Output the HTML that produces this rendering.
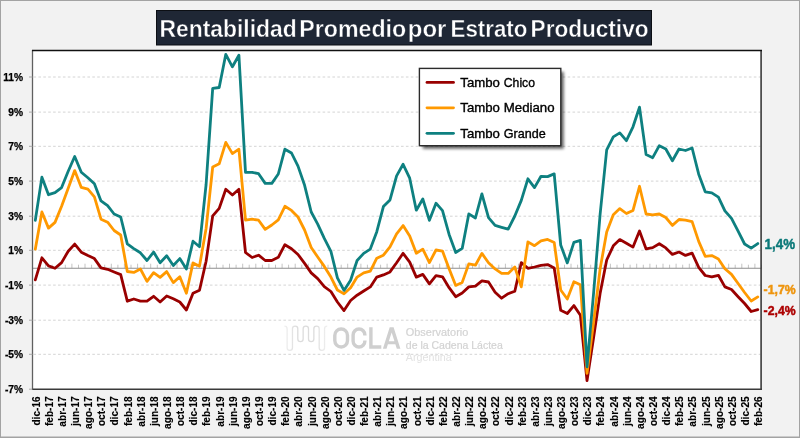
<!DOCTYPE html>
<html><head><meta charset="utf-8"><title>Rentabilidad Promedio por Estrato Productivo</title>
<style>html,body{margin:0;padding:0;background:#f2f2f2;}svg{display:block;will-change:transform;}text{font-family:"Liberation Sans",sans-serif;}</style>
</head><body>
<svg width="800" height="438" viewBox="0 0 800 438">
<defs><filter id="sh" x="-10%" y="-10%" width="130%" height="130%"><feGaussianBlur stdDeviation="1.7"/></filter></defs>
<rect x="0" y="0" width="800" height="438" fill="#f2f2f2"/>
<rect x="0.5" y="0.5" width="799" height="437" fill="none" stroke="#a3a3a3" stroke-width="1"/>
<rect x="0" y="436.5" width="800" height="1.5" fill="#a3a3a3"/>
<rect x="32.5" y="50.5" width="729.0" height="339.0" fill="#ffffff"/>
<line x1="33.5" y1="77.0" x2="760.5" y2="77.0" stroke="#d4d4d4" stroke-width="1" stroke-dasharray="2.6 2.3"/>
<line x1="33.5" y1="112.1" x2="760.5" y2="112.1" stroke="#d4d4d4" stroke-width="1" stroke-dasharray="2.6 2.3"/>
<line x1="33.5" y1="146.3" x2="760.5" y2="146.3" stroke="#d4d4d4" stroke-width="1" stroke-dasharray="2.6 2.3"/>
<line x1="33.5" y1="181.1" x2="760.5" y2="181.1" stroke="#d4d4d4" stroke-width="1" stroke-dasharray="2.6 2.3"/>
<line x1="33.5" y1="216.2" x2="760.5" y2="216.2" stroke="#d4d4d4" stroke-width="1" stroke-dasharray="2.6 2.3"/>
<line x1="33.5" y1="250.3" x2="760.5" y2="250.3" stroke="#d4d4d4" stroke-width="1" stroke-dasharray="2.6 2.3"/>
<line x1="33.5" y1="285.1" x2="760.5" y2="285.1" stroke="#d4d4d4" stroke-width="1" stroke-dasharray="2.6 2.3"/>
<line x1="33.5" y1="320.2" x2="760.5" y2="320.2" stroke="#d4d4d4" stroke-width="1" stroke-dasharray="2.6 2.3"/>
<line x1="33.5" y1="354.3" x2="760.5" y2="354.3" stroke="#d4d4d4" stroke-width="1" stroke-dasharray="2.6 2.3"/>
<g id="wm">
<defs><linearGradient id="wg" x1="284" y1="0" x2="328" y2="0" gradientUnits="userSpaceOnUse"><stop offset="0" stop-color="#f1f1f1"/><stop offset="0.3" stop-color="#dcdcdc"/><stop offset="0.7" stop-color="#dcdcdc"/><stop offset="1" stop-color="#f1f1f1"/></linearGradient></defs>
<path d="M284.4,326.2 q2.7,0 2.7,2.7 V347.7 a2.675,2.675 0 0 0 5.35,0 V328.7 a2.675,2.675 0 0 1 5.35,0 V338.9 a2.675,2.675 0 0 0 5.35,0 V328.7 a2.675,2.675 0 0 1 5.35,0 V338.9 a2.675,2.675 0 0 0 5.35,0 V328.7 a2.675,2.675 0 0 1 5.35,0 V347.7 a2.675,2.675 0 0 0 5.35,0 V328.9 q0,-2.7 2.7,-2.7" fill="none" stroke="url(#wg)" stroke-width="1.3"/>
<g fill="none" stroke="#cfcfcf" stroke-width="3.4">
<rect x="334.8" y="329" width="12.7" height="18" rx="6.3" ry="6.4"/>
<path d="M364.9,335.6 V335 a5.9,6 0 0 0 -11.8,0 V341 a5.9,6 0 0 0 11.8,0 V340.4"/>
<path d="M370.9,327.3 V347 H381.3"/>
</g>
<path d="M382.9,348.7 L389.7,327.3 H393.6 L400.4,348.7 H396.8 L395.4,344.3 H387.9 L386.5,348.7 Z M388.85,341.3 H394.45 L391.65,332.4 Z" fill="#cfcfcf" fill-rule="evenodd"/>
<text x="405.8" y="335.8" font-size="10.6" fill="#d3d3d3" stroke="#d3d3d3" stroke-width="0.2" textLength="62.5" lengthAdjust="spacingAndGlyphs">Observatorio</text>
<text x="405.8" y="348.5" font-size="10.6" fill="#d3d3d3" stroke="#d3d3d3" stroke-width="0.2" textLength="97" lengthAdjust="spacingAndGlyphs">de la Cadena Láctea</text>
<text x="405.8" y="360.8" font-size="10.6" fill="#e2e2e2" textLength="46" lengthAdjust="spacingAndGlyphs">Argentina</text>
</g>
<path d="M32.5,263.7V268.2M39.1,264.7V268.2M45.6,263.7V268.2M52.2,264.7V268.2M58.8,263.7V268.2M65.3,264.7V268.2M71.9,263.7V268.2M78.5,264.7V268.2M85.0,263.7V268.2M91.6,264.7V268.2M98.2,263.7V268.2M104.7,264.7V268.2M111.3,263.7V268.2M117.9,264.7V268.2M124.4,263.7V268.2M131.0,264.7V268.2M137.6,263.7V268.2M144.1,264.7V268.2M150.7,263.7V268.2M157.3,264.7V268.2M163.9,263.7V268.2M170.4,264.7V268.2M177.0,263.7V268.2M183.6,264.7V268.2M190.1,263.7V268.2M196.7,264.7V268.2M203.3,263.7V268.2M209.8,264.7V268.2M216.4,263.7V268.2M223.0,264.7V268.2M229.5,263.7V268.2M236.1,264.7V268.2M242.7,263.7V268.2M249.2,264.7V268.2M255.8,263.7V268.2M262.4,264.7V268.2M268.9,263.7V268.2M275.5,264.7V268.2M282.1,263.7V268.2M288.6,264.7V268.2M295.2,263.7V268.2M301.8,264.7V268.2M308.3,263.7V268.2M314.9,264.7V268.2M321.5,263.7V268.2M328.0,264.7V268.2M334.6,263.7V268.2M341.2,264.7V268.2M347.7,263.7V268.2M354.3,264.7V268.2M360.9,263.7V268.2M367.4,264.7V268.2M374.0,263.7V268.2M380.6,264.7V268.2M387.1,263.7V268.2M393.7,264.7V268.2M400.3,263.7V268.2M406.9,264.7V268.2M413.4,263.7V268.2M420.0,264.7V268.2M426.6,263.7V268.2M433.1,264.7V268.2M439.7,263.7V268.2M446.3,264.7V268.2M452.8,263.7V268.2M459.4,264.7V268.2M466.0,263.7V268.2M472.5,264.7V268.2M479.1,263.7V268.2M485.7,264.7V268.2M492.2,263.7V268.2M498.8,264.7V268.2M505.4,263.7V268.2M511.9,264.7V268.2M518.5,263.7V268.2M525.1,264.7V268.2M531.6,263.7V268.2M538.2,264.7V268.2M544.8,263.7V268.2M551.3,264.7V268.2M557.9,263.7V268.2M564.5,264.7V268.2M571.0,263.7V268.2M577.6,264.7V268.2M584.2,263.7V268.2M590.7,264.7V268.2M597.3,263.7V268.2M603.9,264.7V268.2M610.4,263.7V268.2M617.0,264.7V268.2M623.6,263.7V268.2M630.1,264.7V268.2M636.7,263.7V268.2M643.3,264.7V268.2M649.9,263.7V268.2M656.4,264.7V268.2M663.0,263.7V268.2M669.6,264.7V268.2M676.1,263.7V268.2M682.7,264.7V268.2M689.3,263.7V268.2M695.8,264.7V268.2M702.4,263.7V268.2M709.0,264.7V268.2M715.5,263.7V268.2M722.1,264.7V268.2M728.7,263.7V268.2M735.2,264.7V268.2M741.8,263.7V268.2M748.4,264.7V268.2M754.9,263.7V268.2M761.5,264.7V268.2" stroke="#c4c4c4" stroke-width="1" fill="none"/>
<line x1="32.5" y1="268.2" x2="761.5" y2="268.2" stroke="#8e8e8e" stroke-width="1.1"/>
<polyline points="35.3,279.9 41.9,257.8 48.5,265.9 55.0,268.3 61.6,262.6 68.2,251.2 74.7,244.1 81.3,252.2 87.9,255.6 94.4,258.6 101.0,267.9 107.6,269.3 114.1,272.0 120.7,274.6 127.3,301.2 133.8,299.0 140.4,301.1 147.0,301.1 153.6,296.3 160.1,302.0 166.7,296.0 173.3,298.8 179.8,302.0 186.4,310.0 193.0,293.3 199.5,290.2 206.1,261.3 212.7,215.9 219.2,208.4 225.8,189.3 232.4,195.0 238.9,189.3 245.5,252.5 252.1,257.5 258.6,255.2 265.2,260.5 271.8,260.5 278.3,257.3 284.9,244.7 291.5,248.7 298.0,254.5 304.6,263.4 311.2,272.9 317.7,278.6 324.3,286.6 330.9,291.5 337.4,302.0 344.0,310.6 350.6,300.5 357.1,295.2 363.7,291.0 370.3,286.9 376.8,277.1 383.4,274.9 390.0,271.9 396.6,262.8 403.1,253.3 409.7,262.1 416.3,277.1 422.8,274.4 429.4,283.9 436.0,275.6 442.5,276.8 449.1,287.7 455.7,296.7 462.2,293.0 468.8,286.9 475.4,286.2 481.9,280.9 488.5,282.0 495.1,292.2 501.6,298.2 508.2,293.7 514.8,291.3 521.3,262.6 527.9,268.3 534.5,267.0 541.0,265.4 547.6,264.6 554.2,268.0 560.7,310.3 567.3,313.5 573.9,305.6 580.4,315.3 587.0,380.7 593.6,337.5 600.1,293.6 606.7,260.0 613.3,245.8 619.8,239.6 626.4,243.2 633.0,247.1 639.5,231.0 646.1,248.9 652.7,247.6 659.3,243.7 665.8,247.9 672.4,254.4 679.0,252.0 685.5,255.4 692.1,253.1 698.7,267.4 705.2,275.5 711.8,276.9 718.4,275.3 724.9,286.9 731.5,289.5 738.1,296.7 744.6,303.5 751.2,311.5 757.8,309.6" fill="none" stroke="#990000" stroke-width="2.8" stroke-linejoin="round" stroke-linecap="round"/>
<polyline points="35.3,249.2 41.9,212.0 48.5,228.1 55.0,222.4 61.6,206.3 68.2,188.2 74.7,170.6 81.3,187.4 87.9,189.2 94.4,196.9 101.0,219.2 107.6,222.2 114.1,230.5 120.7,235.0 127.3,271.5 133.8,272.4 140.4,269.0 147.0,281.4 153.6,272.7 160.1,277.4 166.7,271.6 173.3,282.6 179.8,276.8 186.4,293.2 193.0,262.9 199.5,266.2 206.1,228.5 212.7,167.0 219.2,163.8 225.8,142.4 232.4,153.6 238.9,149.2 245.5,220.2 252.1,219.2 258.6,220.2 265.2,229.4 271.8,225.0 278.3,219.8 284.9,206.3 291.5,210.4 298.0,217.0 304.6,230.0 311.2,247.5 317.7,257.0 324.3,266.4 330.9,277.1 337.4,290.0 344.0,293.7 350.6,287.7 357.1,277.1 363.7,272.9 370.3,271.1 376.8,258.2 383.4,255.2 390.0,246.8 396.6,233.9 403.1,225.6 409.7,236.0 416.3,253.3 422.8,249.1 429.4,262.6 436.0,250.0 442.5,251.1 449.1,268.8 455.7,285.4 462.2,282.4 468.8,263.9 475.4,265.2 481.9,253.4 488.5,262.7 495.1,268.9 501.6,273.4 508.2,273.4 514.8,267.0 521.3,286.9 527.9,241.9 534.5,245.7 541.0,240.9 547.6,239.4 554.2,242.4 560.7,290.0 567.3,299.0 573.9,281.8 580.4,284.8 587.0,373.3 593.6,322.0 600.1,269.0 606.7,232.0 613.3,214.7 619.8,208.6 626.4,213.5 633.0,210.4 639.5,186.3 646.1,214.0 652.7,214.9 659.3,214.0 665.8,217.5 672.4,225.4 679.0,219.5 685.5,220.2 692.1,221.6 698.7,241.4 705.2,256.3 711.8,255.6 718.4,258.9 724.9,268.8 731.5,274.4 738.1,283.5 744.6,292.5 751.2,301.0 757.8,296.9" fill="none" stroke="#ff9900" stroke-width="2.8" stroke-linejoin="round" stroke-linecap="round"/>
<polyline points="35.3,220.4 41.9,177.2 48.5,194.7 55.0,192.7 61.6,187.6 68.2,171.2 74.7,156.5 81.3,172.2 87.9,177.8 94.4,183.8 101.0,200.9 107.6,205.7 114.1,214.0 120.7,217.0 127.3,243.9 133.8,248.6 140.4,252.8 147.0,260.5 153.6,252.1 160.1,262.7 166.7,255.7 173.3,265.5 179.8,258.6 186.4,269.0 193.0,241.2 199.5,246.7 206.1,184.5 212.7,88.4 219.2,87.5 225.8,54.3 232.4,66.8 238.9,55.2 245.5,172.3 252.1,172.3 258.6,173.7 265.2,183.4 271.8,183.4 278.3,174.0 284.9,149.2 291.5,153.0 298.0,166.1 304.6,185.3 311.2,212.0 317.7,224.1 324.3,238.4 330.9,251.3 337.4,277.9 344.0,290.4 350.6,280.2 357.1,260.5 363.7,253.4 370.3,249.1 376.8,231.7 383.4,206.6 390.0,199.9 396.6,175.9 403.1,164.3 409.7,178.2 416.3,210.2 422.8,199.0 429.4,220.3 436.0,203.2 442.5,210.6 449.1,234.4 455.7,252.5 462.2,248.4 468.8,213.9 475.4,218.0 481.9,193.9 488.5,217.7 495.1,225.4 501.6,227.3 508.2,229.1 514.8,216.0 521.3,200.4 527.9,178.8 534.5,187.6 541.0,176.3 547.6,176.6 554.2,173.9 560.7,245.0 567.3,262.9 573.9,242.4 580.4,240.4 587.0,366.8 593.6,293.0 600.1,214.5 606.7,149.8 613.3,136.9 619.8,132.9 626.4,140.7 633.0,126.8 639.5,107.2 646.1,154.6 652.7,157.7 659.3,145.7 665.8,149.0 672.4,160.8 679.0,149.0 685.5,150.5 692.1,148.0 698.7,174.2 705.2,191.8 711.8,192.8 718.4,197.1 724.9,210.8 731.5,218.4 738.1,231.2 744.6,244.0 751.2,248.1 757.8,243.6" fill="none" stroke="#0e8080" stroke-width="2.8" stroke-linejoin="round" stroke-linecap="round"/>
<line x1="32.5" y1="50.0" x2="32.5" y2="390.0" stroke="#606060" stroke-width="1.3"/>
<line x1="761.1" y1="50.0" x2="761.1" y2="390.0" stroke="#3a3a3a" stroke-width="1.6"/>
<line x1="32.0" y1="50.5" x2="762.0" y2="50.5" stroke="#111111" stroke-width="1.3"/>
<line x1="32.0" y1="389.2" x2="761.9" y2="389.2" stroke="#3a3a3a" stroke-width="1.5"/>
<line x1="29.0" y1="77.0" x2="32.5" y2="77.0" stroke="#a8a8a8" stroke-width="1"/>
<text x="23.1" y="80.7" font-size="10.2" font-weight="bold" fill="#000" stroke="#000" stroke-width="0.25" text-anchor="end">11%</text>
<line x1="29.0" y1="112.1" x2="32.5" y2="112.1" stroke="#a8a8a8" stroke-width="1"/>
<text x="23.1" y="115.8" font-size="10.2" font-weight="bold" fill="#000" stroke="#000" stroke-width="0.25" text-anchor="end">9%</text>
<line x1="29.0" y1="146.3" x2="32.5" y2="146.3" stroke="#a8a8a8" stroke-width="1"/>
<text x="23.1" y="150.0" font-size="10.2" font-weight="bold" fill="#000" stroke="#000" stroke-width="0.25" text-anchor="end">7%</text>
<line x1="29.0" y1="181.1" x2="32.5" y2="181.1" stroke="#a8a8a8" stroke-width="1"/>
<text x="23.1" y="184.8" font-size="10.2" font-weight="bold" fill="#000" stroke="#000" stroke-width="0.25" text-anchor="end">5%</text>
<line x1="29.0" y1="216.2" x2="32.5" y2="216.2" stroke="#a8a8a8" stroke-width="1"/>
<text x="23.1" y="219.9" font-size="10.2" font-weight="bold" fill="#000" stroke="#000" stroke-width="0.25" text-anchor="end">3%</text>
<line x1="29.0" y1="250.3" x2="32.5" y2="250.3" stroke="#a8a8a8" stroke-width="1"/>
<text x="23.1" y="254.0" font-size="10.2" font-weight="bold" fill="#000" stroke="#000" stroke-width="0.25" text-anchor="end">1%</text>
<line x1="29.0" y1="285.1" x2="32.5" y2="285.1" stroke="#a8a8a8" stroke-width="1"/>
<text x="23.1" y="288.8" font-size="10.2" font-weight="bold" fill="#000" stroke="#000" stroke-width="0.25" text-anchor="end">-1%</text>
<line x1="29.0" y1="320.2" x2="32.5" y2="320.2" stroke="#a8a8a8" stroke-width="1"/>
<text x="23.1" y="323.9" font-size="10.2" font-weight="bold" fill="#000" stroke="#000" stroke-width="0.25" text-anchor="end">-3%</text>
<line x1="29.0" y1="354.3" x2="32.5" y2="354.3" stroke="#a8a8a8" stroke-width="1"/>
<text x="23.1" y="358.0" font-size="10.2" font-weight="bold" fill="#000" stroke="#000" stroke-width="0.25" text-anchor="end">-5%</text>
<line x1="29.0" y1="389.2" x2="32.5" y2="389.2" stroke="#a8a8a8" stroke-width="1"/>
<text x="23.1" y="392.9" font-size="10.2" font-weight="bold" fill="#000" stroke="#000" stroke-width="0.25" text-anchor="end">-7%</text>
<text transform="translate(39.6,396.3) rotate(-90) scale(0.955,1)" font-size="10.6" font-weight="bold" fill="#000" stroke="#000" stroke-width="0.12" text-anchor="end">dic-16</text>
<text transform="translate(52.8,396.3) rotate(-90) scale(0.955,1)" font-size="10.6" font-weight="bold" fill="#000" stroke="#000" stroke-width="0.12" text-anchor="end">feb-17</text>
<text transform="translate(65.9,396.3) rotate(-90) scale(0.955,1)" font-size="10.6" font-weight="bold" fill="#000" stroke="#000" stroke-width="0.12" text-anchor="end">abr-17</text>
<text transform="translate(79.0,396.3) rotate(-90) scale(0.955,1)" font-size="10.6" font-weight="bold" fill="#000" stroke="#000" stroke-width="0.12" text-anchor="end">jun-17</text>
<text transform="translate(92.2,396.3) rotate(-90) scale(0.955,1)" font-size="10.6" font-weight="bold" fill="#000" stroke="#000" stroke-width="0.12" text-anchor="end">ago-17</text>
<text transform="translate(105.3,396.3) rotate(-90) scale(0.955,1)" font-size="10.6" font-weight="bold" fill="#000" stroke="#000" stroke-width="0.12" text-anchor="end">oct-17</text>
<text transform="translate(118.4,396.3) rotate(-90) scale(0.955,1)" font-size="10.6" font-weight="bold" fill="#000" stroke="#000" stroke-width="0.12" text-anchor="end">dic-17</text>
<text transform="translate(131.6,396.3) rotate(-90) scale(0.955,1)" font-size="10.6" font-weight="bold" fill="#000" stroke="#000" stroke-width="0.12" text-anchor="end">feb-18</text>
<text transform="translate(144.7,396.3) rotate(-90) scale(0.955,1)" font-size="10.6" font-weight="bold" fill="#000" stroke="#000" stroke-width="0.12" text-anchor="end">abr-18</text>
<text transform="translate(157.9,396.3) rotate(-90) scale(0.955,1)" font-size="10.6" font-weight="bold" fill="#000" stroke="#000" stroke-width="0.12" text-anchor="end">jun-18</text>
<text transform="translate(171.0,396.3) rotate(-90) scale(0.955,1)" font-size="10.6" font-weight="bold" fill="#000" stroke="#000" stroke-width="0.12" text-anchor="end">ago-18</text>
<text transform="translate(184.1,396.3) rotate(-90) scale(0.955,1)" font-size="10.6" font-weight="bold" fill="#000" stroke="#000" stroke-width="0.12" text-anchor="end">oct-18</text>
<text transform="translate(197.3,396.3) rotate(-90) scale(0.955,1)" font-size="10.6" font-weight="bold" fill="#000" stroke="#000" stroke-width="0.12" text-anchor="end">dic-18</text>
<text transform="translate(210.4,396.3) rotate(-90) scale(0.955,1)" font-size="10.6" font-weight="bold" fill="#000" stroke="#000" stroke-width="0.12" text-anchor="end">feb-19</text>
<text transform="translate(223.5,396.3) rotate(-90) scale(0.955,1)" font-size="10.6" font-weight="bold" fill="#000" stroke="#000" stroke-width="0.12" text-anchor="end">abr-19</text>
<text transform="translate(236.7,396.3) rotate(-90) scale(0.955,1)" font-size="10.6" font-weight="bold" fill="#000" stroke="#000" stroke-width="0.12" text-anchor="end">jun-19</text>
<text transform="translate(249.8,396.3) rotate(-90) scale(0.955,1)" font-size="10.6" font-weight="bold" fill="#000" stroke="#000" stroke-width="0.12" text-anchor="end">ago-19</text>
<text transform="translate(262.9,396.3) rotate(-90) scale(0.955,1)" font-size="10.6" font-weight="bold" fill="#000" stroke="#000" stroke-width="0.12" text-anchor="end">oct-19</text>
<text transform="translate(276.1,396.3) rotate(-90) scale(0.955,1)" font-size="10.6" font-weight="bold" fill="#000" stroke="#000" stroke-width="0.12" text-anchor="end">dic-19</text>
<text transform="translate(289.2,396.3) rotate(-90) scale(0.955,1)" font-size="10.6" font-weight="bold" fill="#000" stroke="#000" stroke-width="0.12" text-anchor="end">feb-20</text>
<text transform="translate(302.3,396.3) rotate(-90) scale(0.955,1)" font-size="10.6" font-weight="bold" fill="#000" stroke="#000" stroke-width="0.12" text-anchor="end">abr-20</text>
<text transform="translate(315.5,396.3) rotate(-90) scale(0.955,1)" font-size="10.6" font-weight="bold" fill="#000" stroke="#000" stroke-width="0.12" text-anchor="end">jun-20</text>
<text transform="translate(328.6,396.3) rotate(-90) scale(0.955,1)" font-size="10.6" font-weight="bold" fill="#000" stroke="#000" stroke-width="0.12" text-anchor="end">ago-20</text>
<text transform="translate(341.7,396.3) rotate(-90) scale(0.955,1)" font-size="10.6" font-weight="bold" fill="#000" stroke="#000" stroke-width="0.12" text-anchor="end">oct-20</text>
<text transform="translate(354.9,396.3) rotate(-90) scale(0.955,1)" font-size="10.6" font-weight="bold" fill="#000" stroke="#000" stroke-width="0.12" text-anchor="end">dic-20</text>
<text transform="translate(368.0,396.3) rotate(-90) scale(0.955,1)" font-size="10.6" font-weight="bold" fill="#000" stroke="#000" stroke-width="0.12" text-anchor="end">feb-21</text>
<text transform="translate(381.1,396.3) rotate(-90) scale(0.955,1)" font-size="10.6" font-weight="bold" fill="#000" stroke="#000" stroke-width="0.12" text-anchor="end">abr-21</text>
<text transform="translate(394.3,396.3) rotate(-90) scale(0.955,1)" font-size="10.6" font-weight="bold" fill="#000" stroke="#000" stroke-width="0.12" text-anchor="end">jun-21</text>
<text transform="translate(407.4,396.3) rotate(-90) scale(0.955,1)" font-size="10.6" font-weight="bold" fill="#000" stroke="#000" stroke-width="0.12" text-anchor="end">ago-21</text>
<text transform="translate(420.6,396.3) rotate(-90) scale(0.955,1)" font-size="10.6" font-weight="bold" fill="#000" stroke="#000" stroke-width="0.12" text-anchor="end">oct-21</text>
<text transform="translate(433.7,396.3) rotate(-90) scale(0.955,1)" font-size="10.6" font-weight="bold" fill="#000" stroke="#000" stroke-width="0.12" text-anchor="end">dic-21</text>
<text transform="translate(446.8,396.3) rotate(-90) scale(0.955,1)" font-size="10.6" font-weight="bold" fill="#000" stroke="#000" stroke-width="0.12" text-anchor="end">feb-22</text>
<text transform="translate(460.0,396.3) rotate(-90) scale(0.955,1)" font-size="10.6" font-weight="bold" fill="#000" stroke="#000" stroke-width="0.12" text-anchor="end">abr-22</text>
<text transform="translate(473.1,396.3) rotate(-90) scale(0.955,1)" font-size="10.6" font-weight="bold" fill="#000" stroke="#000" stroke-width="0.12" text-anchor="end">jun-22</text>
<text transform="translate(486.2,396.3) rotate(-90) scale(0.955,1)" font-size="10.6" font-weight="bold" fill="#000" stroke="#000" stroke-width="0.12" text-anchor="end">ago-22</text>
<text transform="translate(499.4,396.3) rotate(-90) scale(0.955,1)" font-size="10.6" font-weight="bold" fill="#000" stroke="#000" stroke-width="0.12" text-anchor="end">oct-22</text>
<text transform="translate(512.5,396.3) rotate(-90) scale(0.955,1)" font-size="10.6" font-weight="bold" fill="#000" stroke="#000" stroke-width="0.12" text-anchor="end">dic-22</text>
<text transform="translate(525.6,396.3) rotate(-90) scale(0.955,1)" font-size="10.6" font-weight="bold" fill="#000" stroke="#000" stroke-width="0.12" text-anchor="end">feb-23</text>
<text transform="translate(538.8,396.3) rotate(-90) scale(0.955,1)" font-size="10.6" font-weight="bold" fill="#000" stroke="#000" stroke-width="0.12" text-anchor="end">abr-23</text>
<text transform="translate(551.9,396.3) rotate(-90) scale(0.955,1)" font-size="10.6" font-weight="bold" fill="#000" stroke="#000" stroke-width="0.12" text-anchor="end">jun-23</text>
<text transform="translate(565.0,396.3) rotate(-90) scale(0.955,1)" font-size="10.6" font-weight="bold" fill="#000" stroke="#000" stroke-width="0.12" text-anchor="end">ago-23</text>
<text transform="translate(578.2,396.3) rotate(-90) scale(0.955,1)" font-size="10.6" font-weight="bold" fill="#000" stroke="#000" stroke-width="0.12" text-anchor="end">oct-23</text>
<text transform="translate(591.3,396.3) rotate(-90) scale(0.955,1)" font-size="10.6" font-weight="bold" fill="#000" stroke="#000" stroke-width="0.12" text-anchor="end">dic-23</text>
<text transform="translate(604.4,396.3) rotate(-90) scale(0.955,1)" font-size="10.6" font-weight="bold" fill="#000" stroke="#000" stroke-width="0.12" text-anchor="end">feb-24</text>
<text transform="translate(617.6,396.3) rotate(-90) scale(0.955,1)" font-size="10.6" font-weight="bold" fill="#000" stroke="#000" stroke-width="0.12" text-anchor="end">abr-24</text>
<text transform="translate(630.7,396.3) rotate(-90) scale(0.955,1)" font-size="10.6" font-weight="bold" fill="#000" stroke="#000" stroke-width="0.12" text-anchor="end">jun-24</text>
<text transform="translate(643.8,396.3) rotate(-90) scale(0.955,1)" font-size="10.6" font-weight="bold" fill="#000" stroke="#000" stroke-width="0.12" text-anchor="end">ago-24</text>
<text transform="translate(657.0,396.3) rotate(-90) scale(0.955,1)" font-size="10.6" font-weight="bold" fill="#000" stroke="#000" stroke-width="0.12" text-anchor="end">oct-24</text>
<text transform="translate(670.1,396.3) rotate(-90) scale(0.955,1)" font-size="10.6" font-weight="bold" fill="#000" stroke="#000" stroke-width="0.12" text-anchor="end">dic-24</text>
<text transform="translate(683.3,396.3) rotate(-90) scale(0.955,1)" font-size="10.6" font-weight="bold" fill="#000" stroke="#000" stroke-width="0.12" text-anchor="end">feb-25</text>
<text transform="translate(696.4,396.3) rotate(-90) scale(0.955,1)" font-size="10.6" font-weight="bold" fill="#000" stroke="#000" stroke-width="0.12" text-anchor="end">abr-25</text>
<text transform="translate(709.5,396.3) rotate(-90) scale(0.955,1)" font-size="10.6" font-weight="bold" fill="#000" stroke="#000" stroke-width="0.12" text-anchor="end">jun-25</text>
<text transform="translate(722.7,396.3) rotate(-90) scale(0.955,1)" font-size="10.6" font-weight="bold" fill="#000" stroke="#000" stroke-width="0.12" text-anchor="end">ago-25</text>
<text transform="translate(735.8,396.3) rotate(-90) scale(0.955,1)" font-size="10.6" font-weight="bold" fill="#000" stroke="#000" stroke-width="0.12" text-anchor="end">oct-25</text>
<text transform="translate(748.9,396.3) rotate(-90) scale(0.955,1)" font-size="10.6" font-weight="bold" fill="#000" stroke="#000" stroke-width="0.12" text-anchor="end">dic-25</text>
<text transform="translate(762.1,396.3) rotate(-90) scale(0.955,1)" font-size="10.6" font-weight="bold" fill="#000" stroke="#000" stroke-width="0.12" text-anchor="end">feb-26</text>
<rect x="156.5" y="10.5" width="495" height="34.5" fill="#1f2735" stroke="#0c0f14" stroke-width="1"/>
<text x="159.5" y="37.1" font-size="23" font-weight="bold" fill="#ffffff" stroke="#1f2735" stroke-width="0.4" textLength="137.2" lengthAdjust="spacingAndGlyphs">Rentabilidad</text>
<text x="299.3" y="37.1" font-size="23" font-weight="bold" fill="#ffffff" stroke="#1f2735" stroke-width="0.4" textLength="106.9" lengthAdjust="spacingAndGlyphs">Promedio</text>
<text x="407.8" y="37.1" font-size="23" font-weight="bold" fill="#ffffff" stroke="#1f2735" stroke-width="0.4" textLength="38.6" lengthAdjust="spacingAndGlyphs">por</text>
<text x="450.5" y="37.1" font-size="23" font-weight="bold" fill="#ffffff" stroke="#1f2735" stroke-width="0.4" textLength="76.9" lengthAdjust="spacingAndGlyphs">Estrato</text>
<text x="530.6" y="37.1" font-size="23" font-weight="bold" fill="#ffffff" stroke="#1f2735" stroke-width="0.4" textLength="117.9" lengthAdjust="spacingAndGlyphs">Productivo</text>
<rect x="422.8" y="71.8" width="141" height="77" fill="#000" opacity="0.6" filter="url(#sh)"/>
<rect x="419.4" y="68.4" width="141.4" height="77.3" fill="#ffffff" stroke="#2b2b2b" stroke-width="1.4"/>
<line x1="427" y1="82.4" x2="453.5" y2="82.4" stroke="#990000" stroke-width="2.8" stroke-linecap="round"/>
<text x="460.3" y="86.85" font-size="12.2" fill="#000" stroke="#000" stroke-width="0.35" textLength="39.6" lengthAdjust="spacingAndGlyphs">Tambo</text>
<text x="503.8" y="86.85" font-size="12.2" fill="#000" stroke="#000" stroke-width="0.35" textLength="31.2" lengthAdjust="spacingAndGlyphs">Chico</text>
<line x1="427" y1="107.8" x2="453.5" y2="107.8" stroke="#ff9900" stroke-width="2.8" stroke-linecap="round"/>
<text x="460.3" y="112.25" font-size="12.2" fill="#000" stroke="#000" stroke-width="0.35" textLength="39.6" lengthAdjust="spacingAndGlyphs">Tambo</text>
<text x="503.8" y="112.25" font-size="12.2" fill="#000" stroke="#000" stroke-width="0.35" textLength="50.8" lengthAdjust="spacingAndGlyphs">Mediano</text>
<line x1="427" y1="133.3" x2="453.5" y2="133.3" stroke="#0e8080" stroke-width="2.8" stroke-linecap="round"/>
<text x="460.3" y="137.75" font-size="12.2" fill="#000" stroke="#000" stroke-width="0.35" textLength="39.6" lengthAdjust="spacingAndGlyphs">Tambo</text>
<text x="503.8" y="137.75" font-size="12.2" fill="#000" stroke="#000" stroke-width="0.35" textLength="42.0" lengthAdjust="spacingAndGlyphs">Grande</text>
<text x="764.6" y="249.4" font-size="14.3" font-weight="bold" fill="#0a7878" stroke="#0a7878" stroke-width="0.45" textLength="30.4" lengthAdjust="spacingAndGlyphs">1,4%</text>
<text x="763.6" y="294.1" font-size="12.1" font-weight="bold" fill="#ee940c" stroke="#ee940c" stroke-width="0.45" textLength="32" lengthAdjust="spacingAndGlyphs">-1,7%</text>
<text x="763.6" y="315.1" font-size="12.1" font-weight="bold" fill="#ad0000" stroke="#ad0000" stroke-width="0.45" textLength="32" lengthAdjust="spacingAndGlyphs">-2,4%</text>
</svg>
</body></html>
